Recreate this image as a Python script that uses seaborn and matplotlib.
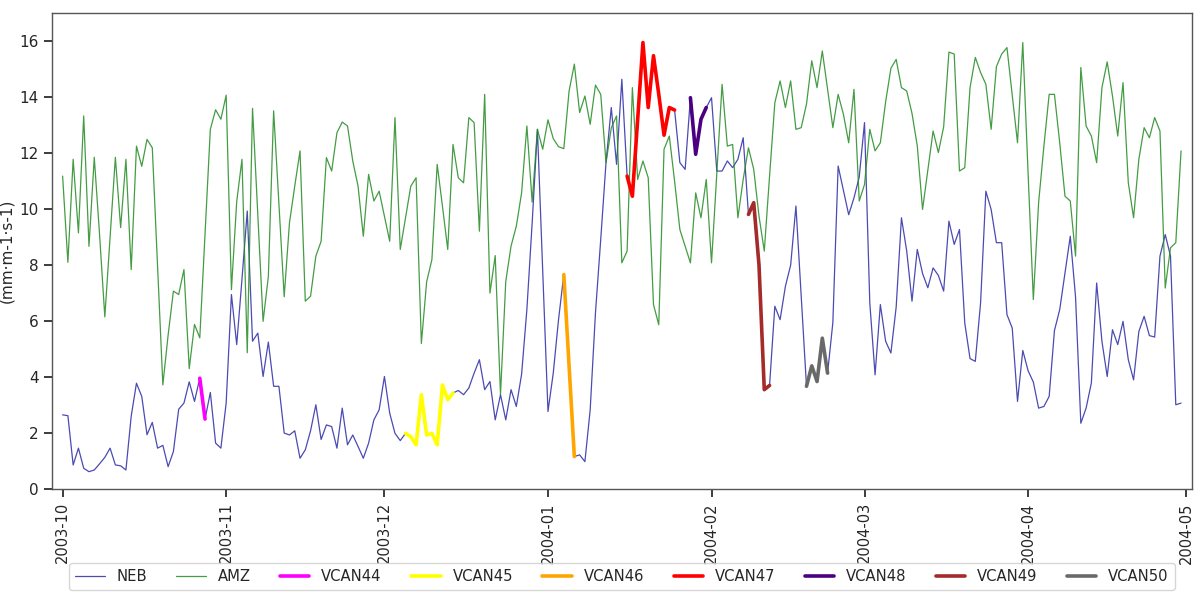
"""
Daily series NEB / AMZ, Oct 2003 - Apr 2004, with VCAN episodes highlighted
"""

import numpy as np
import pandas as pd
import matplotlib
matplotlib.use("Agg")
import matplotlib.pyplot as plt
import matplotlib.dates as mdates
import seaborn as sns

# daily values, 2003-10-01 .. 2004-04-30
start_date = "2003-10-01"
end_date = "2004-04-30"

neb = [
    2.65, 2.62, 0.86, 1.46, 0.74, 0.62, 0.68, 0.90, 1.13, 1.46,
    0.86, 0.83, 0.68, 2.60, 3.78, 3.31, 1.94, 2.38, 1.46, 1.56,
    0.80, 1.34, 2.85, 3.07, 3.83, 3.13, 3.96, 2.50, 3.45, 1.64,
    1.46, 3.07, 6.95, 5.16, 7.50, 9.93, 5.28, 5.57, 4.02, 5.25,
    3.67, 3.67, 2.00, 1.93, 2.08, 1.10, 1.40, 2.08, 3.01, 1.77,
    2.29, 2.23, 1.46, 2.89, 1.58, 1.93, 1.52, 1.10, 1.64, 2.47,
    2.83, 4.02, 2.71, 1.99, 1.73, 1.99, 1.87, 1.58, 3.37, 1.93,
    1.99, 1.58, 3.72, 3.19, 3.43, 3.52, 3.37, 3.61, 4.14, 4.62,
    3.55, 3.84, 2.47, 3.37, 2.47, 3.55, 2.95, 4.10, 6.41, 9.50,
    12.85, 7.80, 2.77, 4.14, 6.05, 7.66, 4.40, 1.16, 1.22, 0.98,
    2.83, 6.29, 8.92, 11.66, 13.63, 11.60, 14.64, 11.18, 10.46, 13.20,
    15.95, 13.63, 15.48, 14.10, 12.64, 13.63, 13.54, 11.66, 11.42, 13.98,
    11.96, 13.21, 13.63, 13.98, 11.36, 11.36, 11.72, 11.48, 11.78, 12.55,
    9.81, 10.23, 8.00, 3.55, 3.70, 6.53, 6.05, 7.24, 8.00, 10.11,
    6.90, 3.67, 4.40, 3.84, 5.39, 4.14, 5.95, 11.54, 10.67, 9.80,
    10.40, 11.15, 13.09, 6.65, 4.08, 6.59, 5.28, 4.86, 6.50, 9.69,
    8.50, 6.71, 8.56, 7.70, 7.19, 7.90, 7.63, 7.07, 9.57, 8.74,
    9.27, 5.93, 4.66, 4.56, 6.65, 10.64, 9.99, 8.80, 8.80, 6.23,
    5.75, 3.13, 4.95, 4.23, 3.82, 2.89, 2.95, 3.31, 5.66, 6.41,
    7.72, 9.03, 6.86, 2.35, 2.89, 3.79, 7.36, 5.28, 4.02, 5.69,
    5.16, 5.99, 4.62, 3.90, 5.63, 6.17, 5.48, 5.43, 8.32, 9.09,
    8.32, 3.01, 3.07,
]

amz = [
    11.18, 8.10, 11.78, 9.15, 13.33, 8.67, 11.85, 9.10, 6.15, 9.00,
    11.85, 9.34, 11.78, 7.84, 12.25, 11.53, 12.49, 12.19, 7.96, 3.72,
    5.50, 7.07, 6.95, 7.84, 4.30, 5.88, 5.40, 9.13, 12.85, 13.55,
    13.21, 14.07, 7.12, 10.27, 11.78, 4.87, 13.60, 9.80, 5.99, 7.60,
    13.51, 10.20, 6.87, 9.51, 10.82, 12.08, 6.71, 6.89, 8.32, 8.85,
    11.84, 11.36, 12.73, 13.11, 12.97, 11.72, 10.82, 9.03, 11.24, 10.29,
    10.64, 9.75, 8.85, 13.27, 8.56, 9.69, 10.82, 11.12, 5.20, 7.40,
    8.20, 11.60, 10.10, 8.56, 12.31, 11.12, 10.94, 13.27, 13.09, 9.21,
    14.10, 7.00, 8.34, 3.37, 7.42, 8.68, 9.39, 10.58, 12.97, 10.25,
    12.85, 12.14, 13.19, 12.52, 12.23, 12.16, 14.22, 15.18, 13.45, 14.04,
    13.03, 14.43, 14.10, 11.66, 12.90, 13.33, 8.08, 8.50, 14.34, 11.06,
    11.72, 11.12, 6.59, 5.87, 12.14, 12.61, 11.00, 9.27, 8.68, 8.08,
    10.58, 9.69, 11.06, 8.08, 11.30, 14.46, 12.25, 12.31, 9.69, 11.06,
    12.19, 11.42, 9.75, 8.50, 11.18, 13.80, 14.58, 13.63, 14.58, 12.85,
    12.91, 13.75, 15.30, 14.34, 15.65, 14.28, 12.91, 14.10, 13.39, 12.37,
    14.28, 10.29, 10.88, 12.85, 12.08, 12.37, 13.83, 15.03, 15.35, 14.34,
    14.22, 13.42, 12.26, 9.99, 11.39, 12.79, 12.02, 12.94, 15.61, 15.54,
    11.36, 11.48, 14.34, 15.42, 14.88, 14.46, 12.85, 15.09, 15.54, 15.77,
    14.07, 12.37, 15.95, 11.30, 6.77, 10.23, 12.25, 14.10, 14.10, 12.37,
    10.46, 10.29, 8.32, 15.06, 12.97, 12.61, 11.66, 14.34, 15.26, 14.04,
    12.61, 14.52, 10.94, 9.69, 11.78, 12.91, 12.55, 13.27, 12.79, 7.18,
    8.62, 8.80, 12.08,
]

# VCAN episodes (first and last day), drawn over the NEB curve
vcan_names = ["VCAN44", "VCAN45", "VCAN46", "VCAN47", "VCAN48", "VCAN49", "VCAN50"]
vcan_start = ["2003-10-27", "2003-12-05", "2004-01-04", "2004-01-16",
              "2004-01-28", "2004-02-08", "2004-02-19"]
vcan_end = ["2003-10-28", "2003-12-14", "2004-01-06", "2004-01-25",
            "2004-01-31", "2004-02-12", "2004-02-23"]
vcan_colors = ["magenta", "yellow", "orange", "red", "indigo", "brown", "dimgray"]


def main():
    dates = pd.date_range(start_date, end_date, freq="D")
    df = pd.DataFrame({"date": dates, "NEB": neb, "AMZ": amz})

    sns.set_theme(style="ticks")
    plt.rcParams["font.family"] = ["DejaVu Sans"]

    fig = plt.figure(figsize=(11.94, 5.99), dpi=100)
    ax = fig.add_axes([0.0436, 0.1836, 0.9544, 0.7944])

    sns.lineplot(data=df, x="date", y="NEB", ax=ax, color="#2b2ba6",
                 lw=0.9, alpha=0.85, label="NEB")
    sns.lineplot(data=df, x="date", y="AMZ", ax=ax, color="#238b23",
                 lw=0.9, alpha=0.85, label="AMZ")

    for name, s, e, c in zip(vcan_names, vcan_start, vcan_end, vcan_colors):
        seg = df[(df["date"] >= s) & (df["date"] <= e)]
        sns.lineplot(data=seg, x="date", y="NEB", ax=ax, color=c,
                     lw=2.6, label=name)

    ax.set_xlim(pd.Timestamp("2003-09-29"), pd.Timestamp("2004-05-02"))
    ax.set_ylim(0, 17)
    ax.set_yticks(np.arange(0, 17, 2))
    ax.xaxis.set_major_locator(mdates.MonthLocator())
    ax.xaxis.set_major_formatter(mdates.DateFormatter("%Y-%m"))
    ax.tick_params(axis="x", labelrotation=90, labelsize=10.5)
    ax.tick_params(axis="y", labelsize=11)
    ax.set_xlabel("")
    ax.set_ylabel("(mm·m-1·s-1)", fontsize=11)

    for sp in ax.spines.values():
        sp.set_color("#555555")
        sp.set_linewidth(1.0)

    ax.legend(loc="upper center", bbox_to_anchor=(0.5, -0.14), ncol=9,
              fontsize=10.6, frameon=True, fancybox=True)

    fig.savefig("out.png", dpi=100)
    plt.close("all")


if __name__ == "__main__":
    main()
